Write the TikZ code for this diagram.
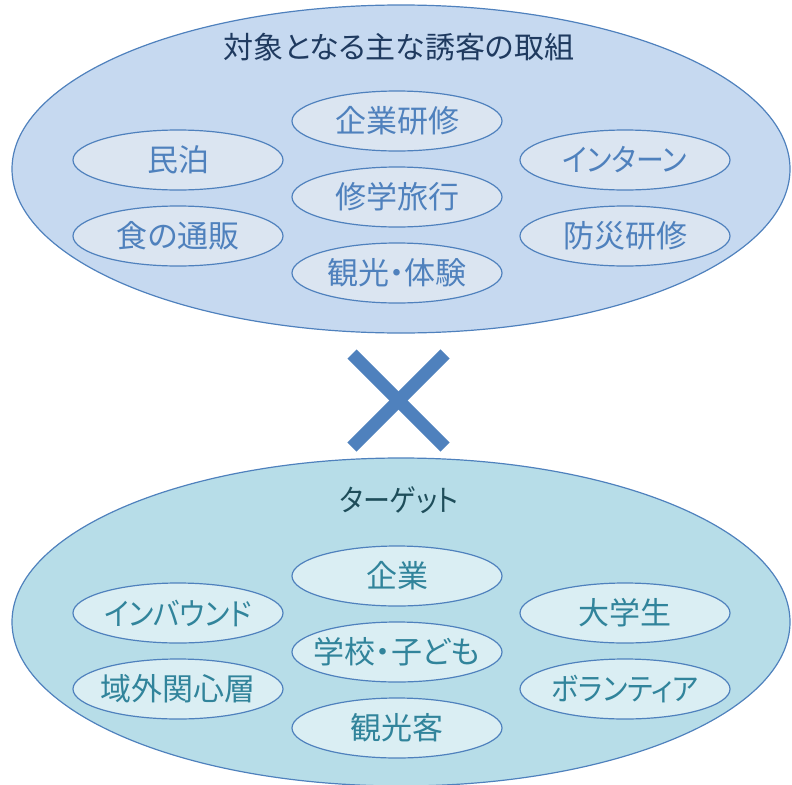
\documentclass[tikz,border=0pt]{standalone}
\usepackage{fontspec}
\setmainfont{Noto Sans CJK JP}[RawFeature=+palt]
\newfontfamily\kanafont{Noto Sans CJK JP}[RawFeature=+palt, FakeStretch=0.9]
\definecolor{edge}{HTML}{4F81BD}
\definecolor{topbig}{HTML}{C6D9F0}
\definecolor{topsmall}{HTML}{DBE5F1}
\definecolor{toptext}{HTML}{4F81BD}
\definecolor{toptitle}{HTML}{1F3A5F}
\definecolor{botbig}{HTML}{B7DDE8}
\definecolor{botsmall}{HTML}{DAEEF3}
\definecolor{bottext}{HTML}{31849B}
\definecolor{bottitle}{HTML}{1E4D5A}
\usetikzlibrary{shapes.geometric}
\tikzset{
  bigell/.style={ellipse, draw=edge, line width=1.2pt, minimum width=778pt, minimum height=328pt, inner sep=0pt},
  itemell/.style={ellipse, draw=edge, line width=1.2pt, minimum width=210pt, minimum height=60pt, inner sep=0pt},
  topitem/.style={itemell, fill=topsmall, label={[text=toptext, font=\fontsize{31}{34}\selectfont, inner sep=0pt]center:#1}},
  botitem/.style={itemell, fill=botsmall, label={[text=bottext, font=\fontsize{31}{34}\selectfont, inner sep=0pt]center:#1}},
  titletext/.style={font=\fontsize{30}{33}\selectfont, inner sep=0pt}
}
\begin{document}
\begin{tikzpicture}[x=1pt,y=-1pt]
\useasboundingbox (0,0) rectangle (792,784);
% top group
\node[bigell, fill=topbig] (topgroup) at (401,169) {};
\node[titletext, text=toptitle] (toptitle) at (399,47) {対象となる主な誘客の取組};
\node[topitem={民泊}] (minpaku) at (178,160) {};
\node[topitem={食の通販}] (shoku) at (178,236) {};
\node[topitem={企業研修}] (kigyoken) at (397,121) {};
\node[topitem={修学旅行}] (shugaku) at (397,197) {};
\node[topitem={観光・体験}] (kanko) at (397,273) {};
\node[topitem={\kanafont インターン}] (intern) at (625,160) {};
\node[topitem={防災研修}] (bosai) at (625,236) {};
% cross
\coordinate (c1) at (352,354);
\coordinate (c2) at (445,447);
\coordinate (c3) at (445,354);
\coordinate (c4) at (352,447);
\draw[edge, line width=13pt] (c1) -- (c2);
\draw[edge, line width=13pt] (c3) -- (c4);
% bottom group
\node[bigell, fill=botbig] (botgroup) at (401,622) {};
\node[titletext, text=bottitle] (bottitle) at (399,500) {\kanafont ターゲット};
\node[botitem={\kanafont インバウンド}] (inbound) at (178,613) {};
\node[botitem={域外関心層}] (ikigai) at (178,689) {};
\node[botitem={企業}] (kigyo) at (397,576) {};
\node[botitem={学校・子ども}] (gakko) at (397,652) {};
\node[botitem={観光客}] (kankokyaku) at (397,728) {};
\node[botitem={大学生}] (daigaku) at (625,613) {};
\node[botitem={\kanafont ボランティア}] (volunteer) at (625,689) {};
\end{tikzpicture}
\end{document}
